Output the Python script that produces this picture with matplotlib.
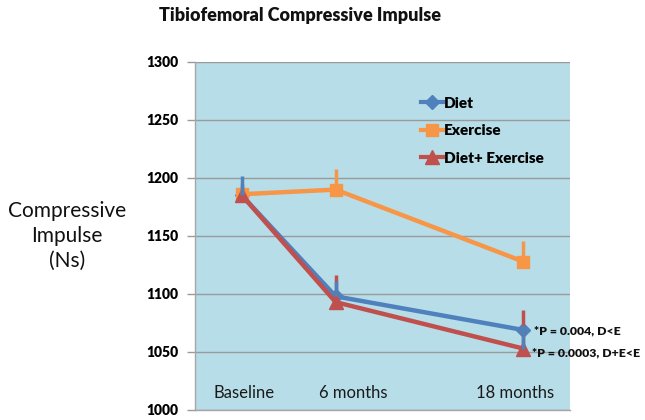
import matplotlib
matplotlib.use("Agg")
import matplotlib.pyplot as plt

plt.rcParams['font.family'] = ['Lato', 'DejaVu Sans']

months = [0, 6, 18]
time_labels = ["Baseline", "6 months", "18 months"]
diet = [1185, 1098, 1069]
exercise = [1186, 1190, 1128]
diet_ex = [1185, 1093, 1053]
diet_err_up = [17, 13, 4]
diet_err_lo = [0, 0, 16]
exercise_err_up = [5, 18, 18]
diet_ex_err_up = [10, 23, 33]
annotations = ["*P = 0.004, D<E", "*P = 0.0003, D+E<E"]

c_blue = "#4F81BD"
c_orange = "#F79646"
c_red = "#C0504D"

fig = plt.figure(figsize=(6.45, 4.2), dpi=100)
ax = fig.add_axes([195/645, 10/420, 375/645, 348/420])
ax.set_facecolor("#B7DDE8")
ax.set_xlim(-3, 21)
ax.set_ylim(1000, 1300)
ax.set_yticks(range(1000, 1301, 50))
ax.set_xticks([])
ax.grid(axis='y', color='#9A9A9A', linewidth=1.0)
ax.set_axisbelow(True)
for s in ['top', 'right']:
    ax.spines[s].set_visible(False)
for s in ['left', 'bottom']:
    ax.spines[s].set_color('#A6A6A6')
    ax.spines[s].set_linewidth(1.0)
ax.tick_params(axis='y', length=6, width=1, color='#9A9A9A', pad=6, labelsize=10)
for lab in ax.get_yticklabels():
    lab.set_fontweight('heavy')

lw = 3.2
# error bars
ax.errorbar(months, diet_ex, yerr=[[0, 0, 0], diet_ex_err_up], fmt='none',
            ecolor=c_red, elinewidth=2.5, capsize=0, zorder=4)
ax.errorbar(months, exercise, yerr=[[0, 0, 0], exercise_err_up], fmt='none',
            ecolor=c_orange, elinewidth=2.5, capsize=0, zorder=4)
ax.errorbar(months, diet, yerr=[diet_err_lo, diet_err_up], fmt='none',
            ecolor=c_blue, elinewidth=2.5, capsize=0, zorder=5)

ax.plot(months, diet, color=c_blue, lw=lw, marker='D', ms=7, zorder=3, label='Diet')
ax.plot(months, exercise, color=c_orange, lw=lw, marker='s', ms=9, zorder=3, label='Exercise')
ax.plot(months, diet_ex, color=c_red, lw=lw, marker='^', ms=10, zorder=3, label='Diet+ Exercise')

# category labels inside plot
label_x = [0.15, 7.15, 17.5]
for xx, t in zip(label_x, time_labels):
    ax.text(xx, 1015, t, ha='center', va='center', fontsize=12, color='#1a1a1a')

# annotations
ax.text(18.7, diet[2] - 1, annotations[0], ha='left', va='center',
        fontsize=8.8, fontweight='heavy', color='#111111', zorder=6)
ax.text(18.6, diet_ex[2] - 4, annotations[1], ha='left', va='center',
        fontsize=8.8, fontweight='heavy', color='#111111', zorder=6)

leg = ax.legend(loc='upper left', bbox_to_anchor=(0.565, 0.94), frameon=False,
                handlelength=1.45, handletextpad=0.1, labelspacing=0.95,
                prop={'weight': 'heavy', 'size': 11})
for h in leg.legend_handles:
    h.set_linewidth(3)

fig.text(300/645, 1 - 15/420, "Tibiofemoral Compressive Impulse", ha='center', va='center',
         fontsize=13, fontweight='heavy', color='#111111')
fig.text(67/645, 1 - 236/420, "Compressive\nImpulse\n(Ns)", ha='center', va='center',
         fontsize=15, color='#111111', linespacing=1.3)

fig.savefig("out.png", dpi=100)
